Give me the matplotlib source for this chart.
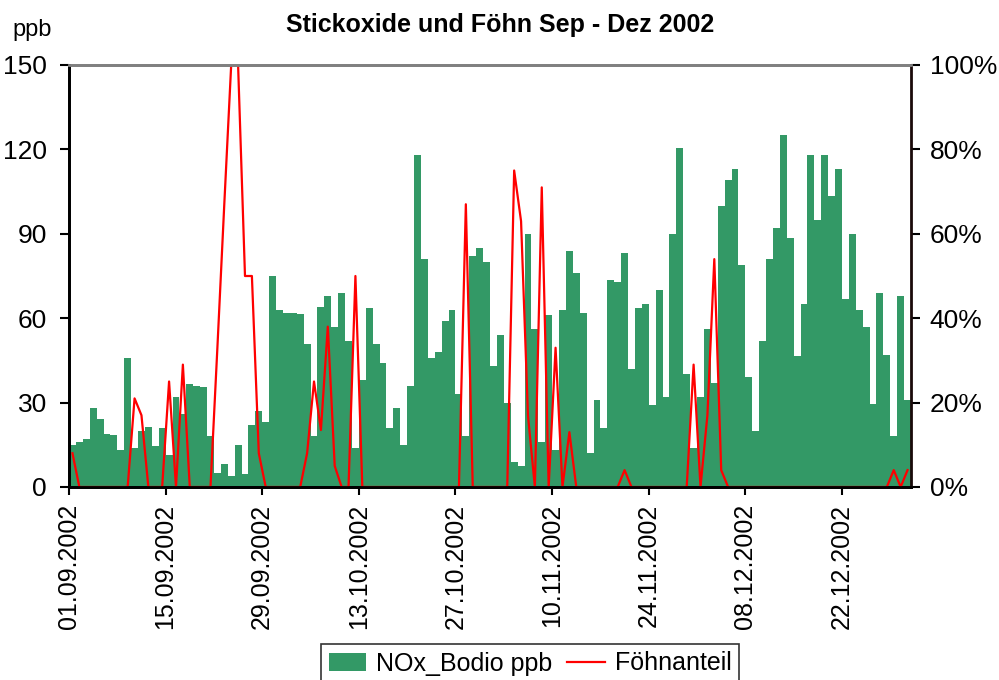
import matplotlib
matplotlib.use("Agg")
import matplotlib.pyplot as plt
import numpy as np
import pandas as pd
from matplotlib.patches import Patch
from matplotlib.lines import Line2D

plt.rcParams['font.family'] = ['Liberation Sans', 'DejaVu Sans']

# ---- data -------------------------------------------------------------
dates = pd.date_range('2002-09-01', '2002-12-31', freq='D')

nox_ppb = [
    15, 16, 17, 28, 24, 19, 18.5, 13, 46, 14,
    20, 21.5, 14.5, 21, 11.5, 32, 26, 36.5, 36, 35.5,
    18, 5, 8, 4, 15, 4.5, 22, 27, 23, 75,
    63, 62, 62, 61.5, 51, 18, 64, 68, 57, 69,
    52, 14, 38, 63.5, 51, 44, 21, 28, 15, 36,
    118, 81, 46, 48, 59, 63, 33, 18, 82, 85,
    80, 43, 54, 30, 9, 7.5, 90, 56, 16, 61,
    13, 63, 84, 76, 62, 12, 31, 21, 73.5, 73,
    83, 42, 63.5, 65, 29, 70, 32, 90, 120.5, 40,
    14, 32, 56, 37, 100, 109, 113, 79, 39, 20,
    52, 81, 92, 125, 88.5, 46.5, 65, 118, 95, 118,
    103.5, 113, 67, 90, 63, 57, 29.5, 69, 47, 18,
    68, 31,
]

foehn_pct = [
    8, 0, 0, 0, 0, 0, 0, 0, 0, 21,
    17, 0, 0, 0, 25, 0, 29, 0, 0, 0,
    0, 33, 67, 100, 100, 50, 50, 8, 0, 0,
    0, 0, 0, 0, 8, 25, 13.5, 38, 5, 0,
    0, 50, 0, 0, 0, 0, 0, 0, 0, 0,
    0, 0, 0, 0, 0, 0, 0, 67, 0, 0,
    0, 0, 0, 0, 75, 63, 17, 0, 71, 0,
    33, 0, 13, 0, 0, 0, 0, 0, 0, 0,
    4, 0, 0, 0, 0, 0, 0, 0, 0, 0,
    29, 0, 17, 54, 4, 0, 0, 0, 0, 0,
    0, 0, 0, 0, 0, 0, 0, 0, 0, 0,
    0, 0, 0, 0, 0, 0, 0, 0, 0, 4,
    0, 4,
]

left_ticks = [0, 30, 60, 90, 120, 150]
right_ticks = [0, 0.2, 0.4, 0.6, 0.8, 1.0]
right_labels = ['0%', '20%', '40%', '60%', '80%', '100%']
tick_every = 14

bar_color = '#339966'
line_color = '#ff0000'

# ---- figure -----------------------------------------------------------
fig = plt.figure(figsize=(9.99, 6.8), dpi=100)
ax = fig.add_axes([69/999, 1 - 487/680, (911 - 69)/999, (487 - 65)/680])

n = len(nox_ppb)
x = np.arange(n)
ax.bar(x + 0.5, nox_ppb, width=1.0, color=bar_color, linewidth=0, zorder=2)
ax.set_xlim(0, n)
ax.set_ylim(0, 150)
ax.set_yticks(left_ticks)
ax.set_yticklabels([str(t) for t in left_ticks])

tick_pos = list(range(0, n, tick_every))
ax.set_xticks(tick_pos)
ax.set_xticklabels([dates[i].strftime('%d.%m.%Y') for i in tick_pos], rotation=90)

ax.tick_params(axis='y', direction='out', length=6.5, width=1.5, labelsize=19, pad=9.5)
ax.tick_params(axis='x', direction='out', length=6, width=1.5, labelsize=18, pad=6)

for side in ['left', 'bottom']:
    ax.spines[side].set_color('black')
    ax.spines[side].set_linewidth(2)
ax.spines['top'].set_color('#808080')
ax.spines['top'].set_linewidth(2)
ax.spines['right'].set_visible(False)

ax2 = ax.twinx()
ax2.plot(x + 0.5, np.array(foehn_pct) / 100.0, color=line_color, linewidth=1.6, zorder=2)
ax2.set_ylim(0, 1)
ax2.set_xlim(0, n)
ax2.set_yticks(right_ticks)
ax2.set_yticklabels(right_labels)
ax2.tick_params(axis='y', direction='out', length=6.5, width=1.5, labelsize=19, pad=7)
ax2.spines['right'].set_color('#1a0a0a')
ax2.spines['right'].set_linewidth(2)
ax2.spines['bottom'].set_color('black')
ax2.spines['bottom'].set_linewidth(2)
ax2.spines['top'].set_color('#808080')
ax2.spines['top'].set_linewidth(2)
ax2.spines['left'].set_color('black')
ax2.spines['left'].set_linewidth(2)

fig.text(500/999, 1 - 25/680, 'Stickoxide und Föhn Sep - Dez 2002',
         ha='center', va='center', fontsize=18, fontweight='bold')
fig.text(12/999, 1 - 30/680, 'ppb', ha='left', va='center', fontsize=17)

handles = [Patch(facecolor=bar_color, edgecolor='none'),
           Line2D([0], [0], color=line_color, linewidth=1.6)]
leg = fig.legend(handles, ['NOx_Bodio ppb', 'Föhnanteil'],
                 loc='upper center', bbox_to_anchor=(530/999, 1 - 644/680),
                 ncol=2, fontsize=18, frameon=True, fancybox=False,
                 edgecolor='black', borderpad=0.3, handlelength=1.5,
                 handletextpad=0.4, columnspacing=0.6, borderaxespad=0)
leg.get_frame().set_linewidth(1.2)

fig.savefig('out.png', dpi=100)
